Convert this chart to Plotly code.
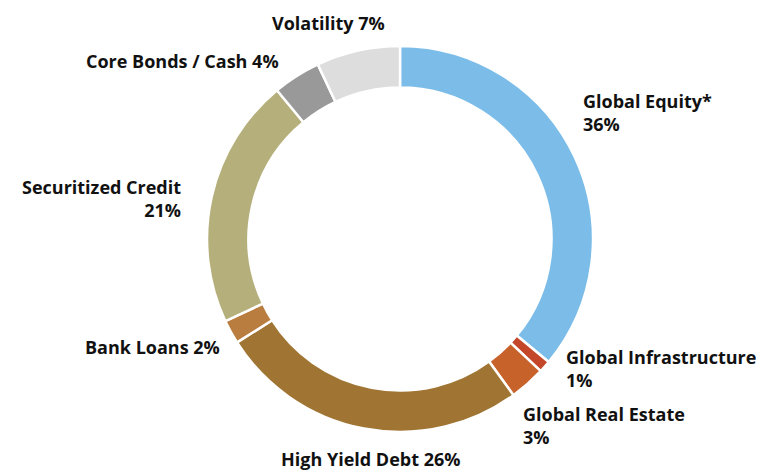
import plotly.graph_objects as go

# ---- data ----
categories = ["Global Equity*", "Global Infrastructure", "Global Real Estate",
              "High Yield Debt", "Bank Loans", "Securitized Credit",
              "Core Bonds / Cash", "Volatility"]
values = [36, 1, 3, 26, 2, 21, 4, 7]
colors = ["#7bbde8", "#c4472a", "#c8622b", "#a07533", "#b87d3f",
          "#b5b07b", "#999999", "#dddddd"]

# label layout: (x px, y px, xanchor, multiline)
W, H = 762, 472
label_layout = {
    "Global Equity*": (582, 112, "left", True),
    "Global Infrastructure": (565, 368, "left", True),
    "Global Real Estate": (522, 425, "left", True),
    "High Yield Debt": (371, 459, "center", False),
    "Bank Loans": (221, 347, "right", False),
    "Securitized Credit": (182, 198, "right", True),
    "Core Bonds / Cash": (280, 61, "right", False),
    "Volatility": (386, 23, "right", False),
}

cx, cy, r = 400, 239, 193

fig = go.Figure(go.Pie(
    labels=categories,
    values=values,
    marker=dict(colors=colors, line=dict(color="white", width=2.5)),
    hole=0.785,
    sort=False,
    direction="clockwise",
    rotation=0,
    textinfo="none",
    hoverinfo="label+percent",
    domain=dict(x=[(cx - r) / W, (cx + r) / W], y=[(H - cy - r) / H, (H - cy + r) / H]),
    showlegend=False,
))

font = dict(family="Open Sans", size=18, color="#111111", weight=700)
annotations = []
for name, val in zip(categories, values):
    x, y, anchor, multi = label_layout[name]
    text = f"{name}<br>{val}%" if multi else f"{name} {val}%"
    annotations.append(dict(
        x=x / W, y=1 - y / H, xref="paper", yref="paper",
        text=text, showarrow=False, xanchor=anchor, yanchor="middle",
        align=anchor, font=font, borderpad=0,
    ))

fig.update_layout(
    width=W, height=H,
    margin=dict(l=0, r=0, t=0, b=0),
    paper_bgcolor="white", plot_bgcolor="white",
    annotations=annotations,
)
fig.write_html("out.html")
